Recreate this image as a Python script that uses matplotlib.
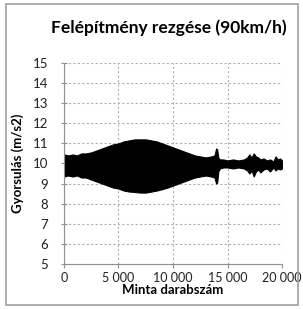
import matplotlib
matplotlib.use("Agg")
import matplotlib.pyplot as plt
from matplotlib.patches import Rectangle
from matplotlib.ticker import FuncFormatter

# envelope of the vibration signal
minta = [0, 400, 800, 1200, 1600, 2000, 2500, 3000, 3500, 4000, 4500, 5000, 5500,
         6000, 6500, 7000, 7500, 8000, 8500, 9000, 9500, 10000, 10500, 11000,
         11500, 12000, 12500, 13000, 13500, 13800, 13950, 14050, 14150, 14300,
         14600, 15000, 15500, 16000, 16500, 16800, 17000, 17200, 17400, 17600,
         17800, 18000, 18300, 18600, 18900, 19200, 19400, 19600, 19800, 20000]
felso = [10.45, 10.4, 10.45, 10.4, 10.5, 10.5, 10.55, 10.65, 10.75, 10.85, 10.95, 11.0, 11.1,
         11.15, 11.2, 11.2, 11.2, 11.15, 11.1, 11.0, 10.9, 10.8, 10.7, 10.6,
         10.5, 10.4, 10.35, 10.3, 10.35, 10.4, 10.75, 10.7, 10.3, 10.2,
         10.2, 10.15, 10.2, 10.15, 10.2, 10.3, 10.45, 10.3, 10.5, 10.35,
         10.3, 10.2, 10.25, 10.15, 10.2, 10.1, 10.35, 10.2, 10.25, 10.15]
also = [9.35, 9.4, 9.35, 9.4, 9.3, 9.3, 9.2, 9.1, 9.0, 8.9, 8.8, 8.75, 8.65,
        8.6, 8.58, 8.55, 8.55, 8.6, 8.65, 8.72, 8.8, 8.9, 9.0, 9.1,
        9.2, 9.3, 9.35, 9.4, 9.35, 9.3, 9.0, 9.05, 9.6, 9.75,
        9.8, 9.8, 9.75, 9.8, 9.75, 9.65, 9.5, 9.65, 9.35, 9.6,
        9.7, 9.55, 9.7, 9.75, 9.6, 9.8, 9.65, 9.75, 9.7, 9.75]

xticks = [0, 5000, 10000, 15000, 20000]
yticks = list(range(5, 16))

plt.rcParams['font.family'] = ['Lato', 'DejaVu Sans']

fig = plt.figure(figsize=(3.03, 3.09), dpi=100)
fig.patches.append(Rectangle((0.02, 0.012), 0.965, 0.975, transform=fig.transFigure,
                             fill=False, edgecolor='#a0a0a0', linewidth=1.2))
ax = fig.add_axes([0.211, 0.146, 0.72, 0.65])

ax.fill_between(minta, also, felso, color='black', linewidth=0.8, edgecolor='black')

ax.set_xlim(0, 20000)
ax.set_ylim(5, 15)
ax.set_xticks(xticks)
ax.set_yticks(yticks)
ax.xaxis.set_major_formatter(FuncFormatter(lambda v, p: f"{int(v):,}".replace(",", " ")))
ax.grid(True, linestyle=(0, (2, 2)), color='#b0b0b0', linewidth=0.8)
ax.set_axisbelow(True)
for s in ['top', 'right']:
    ax.spines[s].set_visible(False)
for s in ['left', 'bottom']:
    ax.spines[s].set_color('#909090')
ax.tick_params(axis='both', labelsize=9.5, color='#909090', length=3, colors='#202020')
ax.tick_params(axis='x', pad=3, labelsize=9)
ax.tick_params(axis='y', direction='inout', length=5, pad=9)

ax.set_xlabel("Minta darabszám", fontsize=9.5, fontweight='bold')
ax.xaxis.set_label_coords(0.5, -0.1)
ax.set_ylabel("Gyorsulás (m/s2)", fontsize=9.5, fontweight='bold', labelpad=6)
fig.text(0.556, 0.909, "Felépítmény rezgése (90km/h)", ha='center', va='center',
         fontsize=12.5, fontweight='bold')

fig.savefig("out.png", dpi=100)
